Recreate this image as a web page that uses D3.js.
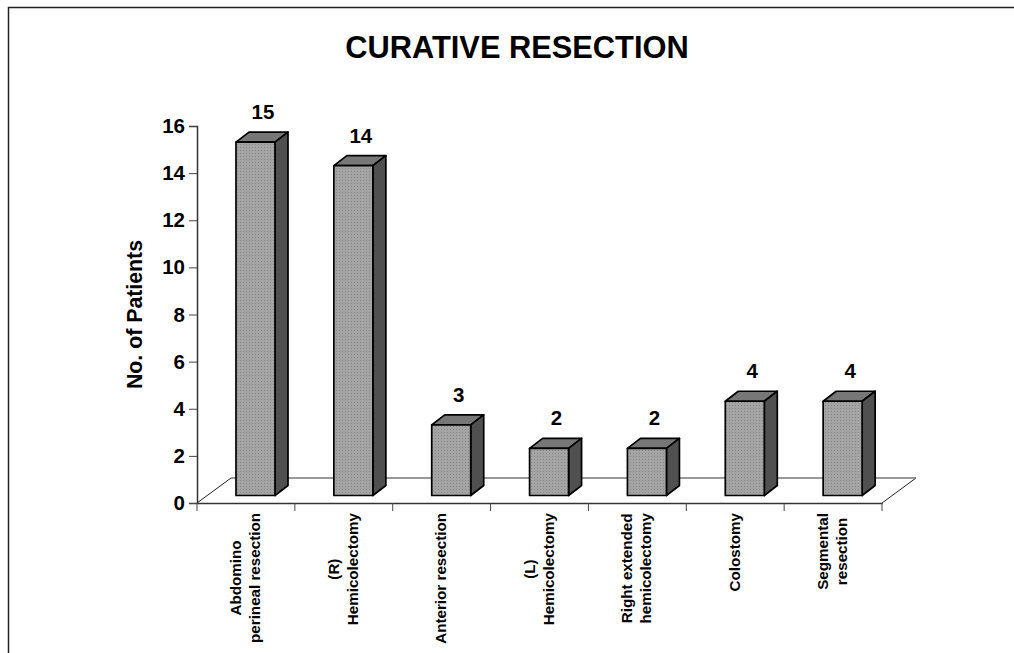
<!DOCTYPE html>
<html lang="en">
<head>
  <meta charset="UTF-8" />
  <title>Curative Resection</title>
  <style>
    html, body { margin: 0; padding: 0; background: #fff; overflow: hidden; }
    svg { display: block; }
    text { font-family: "Liberation Sans", Arial, sans-serif; font-weight: bold; fill: #000; }
  </style>
  <script src="https://cdn.jsdelivr.net/npm/d3@7"></script>
</head>
<body>
  <script>
    // data
    const categories = ["Abdomino perineal resection", "(R) Hemicolectomy", "Anterior resection",
      "(L) Hemicolectomy", "Right extended hemicolectomy", "Colostomy", "Segmental resection"];
    const categoryLines = [["Abdomino", "perineal resection"], ["(R)", "Hemicolectomy"], ["Anterior resection"],
      ["(L)", "Hemicolectomy"], ["Right extended", "hemicolectomy"], ["Colostomy"], ["Segmental", "resection"]];
    const patients = [15, 14, 3, 2, 2, 4, 4];
    const yTicks = [0, 2, 4, 6, 8, 10, 12, 14, 16];

    const width = 1014, height = 653;
    const svg = d3.select("body").append("svg").attr("width", width).attr("height", height);

    // dotted gray fill of the bar fronts
    const pat = svg.append("defs").append("pattern")
      .attr("id", "dots").attr("width", 3).attr("height", 3)
      .attr("patternUnits", "userSpaceOnUse");
    pat.append("rect").attr("width", 3).attr("height", 3).attr("fill", "#a4a4a4");
    pat.append("rect").attr("width", 1).attr("height", 1).attr("fill", "#868686");

    // page frame, open on the right
    svg.append("path").attr("d", "M8.5,653V7.5H1014")
      .attr("fill", "none").attr("stroke", "#222").attr("stroke-width", 1.5);

    svg.append("text").attr("x", 517).attr("y", 58).attr("text-anchor", "middle")
      .attr("font-size", 30.8).text("CURATIVE RESECTION");

    const y = d3.scaleLinear().domain([0, 16]).range([503, 126]);
    const x = d3.scaleBand().domain(categories).range([197, 882]);

    // depth of the 3d floor and of the bars
    const floorDx = 34, floorDy = 25;
    const barDx = 13, barDy = 10, barW = 39, barInset = 39, barLift = 7.5;

    // floor
    svg.append("path")
      .attr("d", `M${x.range()[0]},${y(0)}L${x.range()[0] + floorDx},${y(0) - floorDy}`)
      .attr("stroke", "#222").attr("stroke-width", 1);
    svg.append("path")
      .attr("d", `M${x.range()[1] + floorDx},${y(0) - floorDy}L${x.range()[1]},${y(0)}`)
      .attr("stroke", "#222").attr("stroke-width", 1);
    svg.append("line")
      .attr("x1", x.range()[0] + floorDx).attr("x2", x.range()[1] + floorDx)
      .attr("y1", y(0) - floorDy).attr("y2", y(0) - floorDy)
      .attr("stroke", "#777").attr("stroke-width", 1.5);

    // axes
    const yAxis = d3.axisLeft(y).tickValues(yTicks).tickSize(8).tickPadding(4);
    const gy = svg.append("g").attr("transform", "translate(197,0)").call(yAxis);
    const xAxis = d3.axisBottom(x).tickSize(0).tickFormat("");
    const gx = svg.append("g").attr("transform", `translate(0,${y(0)})`).call(xAxis);
    gx.selectAll(".tick").remove();
    gx.selectAll(".stick").data(categories.concat("end")).join("line")
      .attr("x1", (d, i) => x.range()[0] + i * x.step())
      .attr("x2", (d, i) => x.range()[0] + i * x.step())
      .attr("y1", 0).attr("y2", 8);
    for (const g of [gx, gy]) {
      g.select(".domain").attr("stroke", "#333").attr("stroke-width", 1.5);
      g.selectAll("line").attr("stroke", "#444").attr("stroke-width", 1);
    }
    gy.selectAll("text").attr("font-size", 20.5).attr("font-family", null);

    svg.append("text").attr("transform", "translate(142,314.5) rotate(-90)")
      .attr("text-anchor", "middle").attr("font-size", 21.3).text("No. of Patients");

    // bars
    const bars = svg.selectAll(".bar").data(categories).join("g").attr("class", "bar");
    const left = d => x(d) + barInset;
    const top_ = (d, i) => y(patients[i]) - barLift;
    const base = y(0) - barLift;

    bars.append("path") // top face
      .attr("d", (d, i) => `M${left(d)},${top_(d, i)}l${barDx},${-barDy}h${barW}l${-barDx},${barDy}z`)
      .attr("fill", "#777");
    bars.append("path") // side face
      .attr("d", (d, i) => `M${left(d) + barW},${top_(d, i)}l${barDx},${-barDy}V${base - barDy}l${-barDx},${barDy}z`)
      .attr("fill", "#505050");
    bars.append("rect") // front face
      .attr("x", left).attr("y", top_)
      .attr("width", barW).attr("height", (d, i) => base - top_(d, i))
      .attr("fill", "url(#dots)");
    bars.selectAll("path, rect").attr("stroke", "#000").attr("stroke-width", 1.7).attr("stroke-linejoin", "round");

    // value labels
    bars.append("text")
      .attr("x", d => left(d) + 27).attr("y", (d, i) => top_(d, i) - 23)
      .attr("text-anchor", "middle").attr("font-size", 20.5)
      .text((d, i) => patients[i]);

    // rotated category labels: lines centred on each other, block hung from y=513
    const labelTop = 513, lineGap = 19;
    const labels = svg.selectAll(".cat").data(categories).join("text").attr("class", "cat")
      .attr("font-size", 15.2).attr("text-anchor", "middle");
    labels.selectAll("tspan").data((d, i) => categoryLines[i]).join("tspan")
      .attr("x", 0)
      .attr("dy", (d, i, nodes) => i === 0 ? -(nodes.length - 1) * lineGap / 2 : lineGap)
      .text(d => d);
    labels.attr("transform", function (d) {
      const longest = d3.max(Array.from(this.querySelectorAll("tspan")), t => t.getComputedTextLength());
      return `translate(${x(d) + x.step() / 2 + 4.5},${labelTop + longest / 2}) rotate(-90)`;
    });
  </script>
</body>
</html>
